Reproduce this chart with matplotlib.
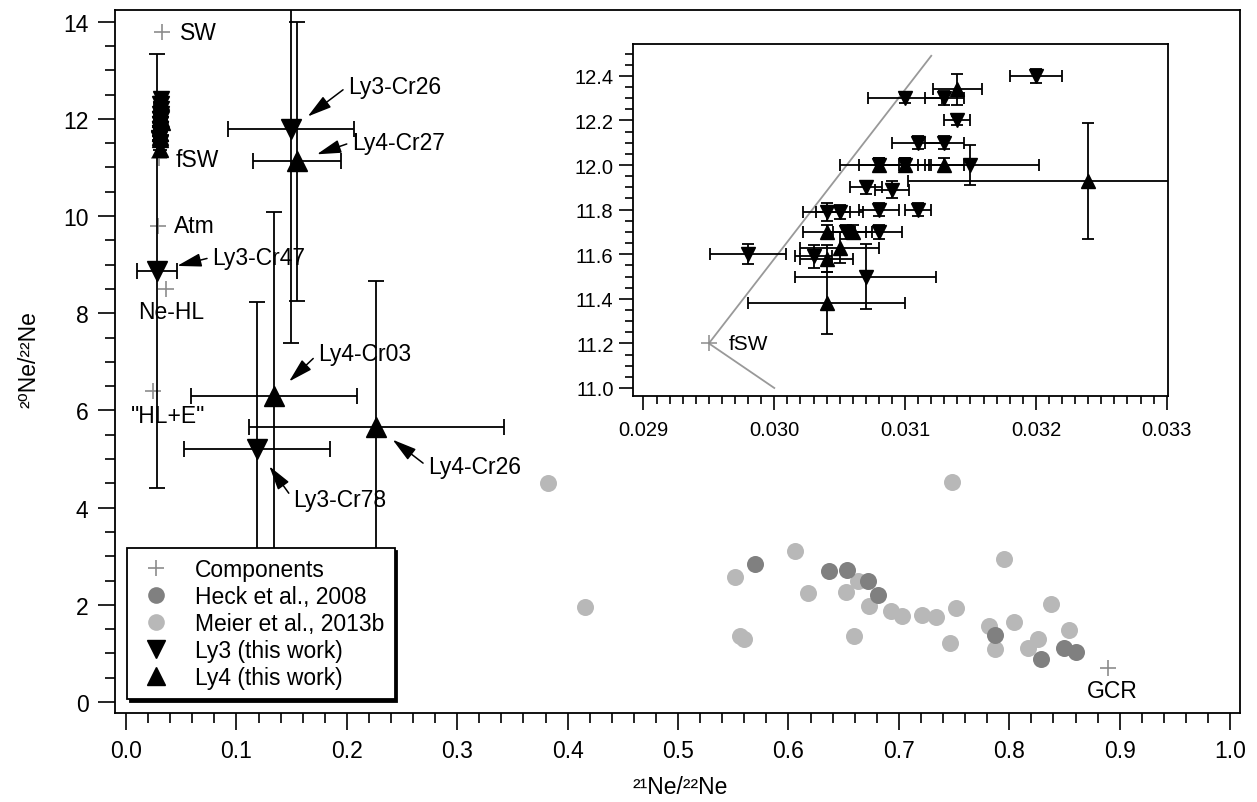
import matplotlib.pyplot as plt
from matplotlib.lines import Line2D
from matplotlib.ticker import MultipleLocator, FormatStrFormatter

plt.rcParams['font.family'] = ['Liberation Sans', 'DejaVu Sans']

# endmember components (21Ne/22Ne, 20Ne/22Ne)
comp_names = ['SW', 'fSW', 'Atm', 'Ne-HL', '"HL+E"', 'GCR']
comp_x = [0.0329, 0.0295, 0.029, 0.036, 0.024, 0.889]
comp_y = [13.78, 11.2, 9.8, 8.5, 6.4, 0.70]

# literature data
heck_x = [0.570, 0.637, 0.653, 0.672, 0.681, 0.787, 0.829, 0.850, 0.860]
heck_y = [2.83, 2.70, 2.71, 2.50, 2.20, 1.38, 0.88, 1.12, 1.02]
meier_x = [0.382, 0.416, 0.606, 0.552, 0.663, 0.618, 0.652, 0.673, 0.693,
           0.556, 0.560, 0.659, 0.795, 0.748, 0.703, 0.721, 0.734, 0.752,
           0.746, 0.782, 0.787, 0.804, 0.838, 0.854, 0.817, 0.826]
meier_y = [4.51, 1.95, 3.10, 2.57, 2.50, 2.24, 2.26, 1.98, 1.88,
           1.36, 1.30, 1.36, 2.94, 4.52, 1.78, 1.79, 1.74, 1.93,
           1.21, 1.57, 1.09, 1.64, 2.02, 1.48, 1.12, 1.30]

# labelled craters (this work)
ly3_names = ['Ly3-Cr26', 'Ly3-Cr47', 'Ly3-Cr78']
ly3_x = [0.1495, 0.028, 0.1187]
ly3_y = [11.79, 8.87, 5.20]
ly3_xerr = [0.057, 0.018, 0.066]
ly3_yerr = [4.40, 4.47, 3.03]
ly4_names = ['Ly4-Cr27', 'Ly4-Cr03', 'Ly4-Cr26']
ly4_x = [0.155, 0.134, 0.2265]
ly4_y = [11.13, 6.30, 5.66]
ly4_xerr = [0.040, 0.075, 0.1155]
ly4_yerr = [2.87, 3.78, 3.00]

# solar-wind-like craters (shown in the inset)
ly3s_x = [0.03100, 0.03130, 0.03200, 0.03140, 0.03110, 0.03130, 0.03080,
          0.03100, 0.03150, 0.03070, 0.03090, 0.03040, 0.03050, 0.03080,
          0.03110, 0.03080, 0.03055, 0.02980, 0.03030, 0.03070]
ly3s_y = [12.30, 12.30, 12.40, 12.20, 12.10, 12.10, 12.00,
          12.00, 12.00, 11.90, 11.89, 11.79, 11.79, 11.80,
          11.80, 11.70, 11.70, 11.60, 11.59, 11.50]
ly3s_xerr = [0.00028, 0.00015, 0.00020, 0.00010, 0.00020, 0.00015, 0.00030,
             0.00020, 0.00052, 0.00012, 0.00013, 0.00018, 0.00018, 0.00015,
             0.00010, 0.00018, 0.00015, 0.00029, 0.00014, 0.00054]
ly3s_yerr = [0.02, 0.03, 0.03, 0.02, 0.03, 0.03, 0.03,
             0.03, 0.09, 0.03, 0.04, 0.04, 0.03, 0.03,
             0.03, 0.03, 0.03, 0.045, 0.05, 0.145]
ly4s_x = [0.03140, 0.03100, 0.03080, 0.03130, 0.03240, 0.03040, 0.03060,
          0.03050, 0.03040, 0.03040]
ly4s_y = [12.34, 12.00, 12.00, 12.00, 11.93, 11.70, 11.70,
          11.63, 11.58, 11.38]
ly4s_xerr = [0.00019, 0.00018, 0.00015, 0.00015, 0.00138, 0.00018, 0.00015,
             0.00030, 0.00020, 0.00060]
ly4s_yerr = [0.07, 0.03, 0.03, 0.03, 0.26, 0.03, 0.03,
             0.07, 0.06, 0.14]

# fractionation line through fSW
line_x = [0.0300, 0.0295, 0.0312]
line_y = [11.0, 11.2, 12.49]

# label offsets (points)
comp_offsets = [(13, 0), (12, -1), (11.5, 0), (4, -16), (11.5, -18), (3.6, -16.5)]
comp_ha = ['left', 'left', 'left', 'center', 'center', 'center']
ly3_offsets = [(41, 31), (40, 10), (26, -36)]
ly4_offsets = [(39.6, 13.7), (31.7, 30.2), (37.4, -28.8)]

dark = '#808080'
light = '#b8b8b8'
compc = '#8c8c8c'
fs = 16.5

fig = plt.figure(figsize=(12.57, 8.03), dpi=100)
ax = fig.add_axes([115 / 1257, 1 - 714 / 803, 1125 / 1257, 703 / 803])

ax.scatter(meier_x, meier_y, s=150, c=light, linewidths=0, zorder=2)
ax.scatter(heck_x, heck_y, s=150, c=dark, linewidths=0, zorder=2)
ax.plot(comp_x, comp_y, '+', color=compc, ms=12, mew=1.2, ls='none', zorder=3)

eb = dict(color='k', elinewidth=1.3, capthick=1.3, ls='none', zorder=3)
ax.errorbar(ly3s_x, ly3s_y, xerr=ly3s_xerr, yerr=ly3s_yerr, fmt='v', ms=11,
            capsize=5, **eb)
ax.errorbar(ly4s_x, ly4s_y, xerr=ly4s_xerr, yerr=ly4s_yerr, fmt='^', ms=11,
            capsize=5, **eb)
ax.errorbar(ly3_x, ly3_y, xerr=ly3_xerr, yerr=ly3_yerr, fmt='v', ms=14,
            capsize=5.5, **eb)
ax.errorbar(ly4_x, ly4_y, xerr=ly4_xerr, yerr=ly4_yerr, fmt='^', ms=14,
            capsize=5.5, **eb)

for name, x, y, off, ha in zip(comp_names, comp_x, comp_y, comp_offsets, comp_ha):
    ax.annotate(name, (x, y), xytext=off, textcoords='offset points',
                ha=ha, va='center', fontsize=fs)

arrow = dict(arrowstyle='-|>,head_length=0.9,head_width=0.25', color='k',
             lw=1.1, shrinkB=15, relpos=(0, 0.5))
for names, xs, ys, offs in [(ly3_names, ly3_x, ly3_y, ly3_offsets),
                            (ly4_names, ly4_x, ly4_y, ly4_offsets)]:
    for name, x, y, off in zip(names, xs, ys, offs):
        ax.annotate(name, (x, y), xytext=off, textcoords='offset points',
                    ha='left', va='center', fontsize=fs, arrowprops=arrow)

ax.set_xlim(-0.01, 1.009)
ax.set_ylim(-0.226, 14.24)
ax.xaxis.set_major_locator(MultipleLocator(0.1))
ax.xaxis.set_minor_locator(MultipleLocator(0.02))
ax.xaxis.set_major_formatter(FormatStrFormatter('%.1f'))
ax.yaxis.set_major_locator(MultipleLocator(2))
ax.yaxis.set_minor_locator(MultipleLocator(0.5))
ax.tick_params(which='major', length=12, width=1.2, labelsize=fs)
ax.tick_params(which='minor', length=7, width=1.2)
ax.tick_params(axis='x', pad=7)
ax.tick_params(axis='y', pad=7)
for s in ax.spines.values():
    s.set_linewidth(1.3)

ax.set_xlabel('²¹Ne/²²Ne', fontsize=fs)
ax.set_ylabel('²⁰Ne/²²Ne', fontsize=fs)
ax.xaxis.set_label_coords(0.502, -0.088)
ax.yaxis.set_label_coords(-0.066, 0.504)

handles = [
    Line2D([], [], marker='+', color=compc, ls='none', ms=12, mew=1.2),
    Line2D([], [], marker='o', color=dark, ls='none', ms=12, mew=0),
    Line2D([], [], marker='o', color=light, ls='none', ms=12, mew=0),
    Line2D([], [], marker='v', color='k', ls='none', ms=13),
    Line2D([], [], marker='^', color='k', ls='none', ms=13),
]
labels = ['Components', 'Heck et al., 2008', 'Meier et al., 2013b',
          'Ly3 (this work)', 'Ly4 (this work)']
leg = ax.legend(handles, labels, loc='lower left', bbox_to_anchor=(0.011, 0.02),
                borderaxespad=0, fontsize=fs, labelspacing=0.17,
                handletextpad=0.9, handlelength=1.6, borderpad=0.45,
                fancybox=False, framealpha=1, edgecolor='k',
                shadow={'color': 'k', 'alpha': 1})
leg.get_frame().set_linewidth(1.3)

# inset
ins = fig.add_axes([633 / 1257, 1 - 397 / 803, 535 / 1257, 352 / 803])
ins.plot(line_x, line_y, color='#999999', lw=1.3, zorder=1)
ins.plot(comp_x[1], comp_y[1], '+', color=compc, ms=11, mew=1.1, zorder=2)
ins.annotate(comp_names[1], (comp_x[1], comp_y[1]), xytext=(14, 0),
             textcoords='offset points', ha='left', va='center', fontsize=15)
ins.errorbar(ly3s_x, ly3s_y, xerr=ly3s_xerr, yerr=ly3s_yerr, fmt='v', ms=10,
             capsize=4.5, **eb)
ins.errorbar(ly4s_x, ly4s_y, xerr=ly4s_xerr, yerr=ly4s_yerr, fmt='^', ms=10,
             capsize=4.5, **eb)
ins.set_xlim(0.02892, 0.03301)
ins.set_ylim(10.964, 12.543)
ins.xaxis.set_major_locator(MultipleLocator(0.001))
ins.xaxis.set_minor_locator(MultipleLocator(0.0001))
ins.xaxis.set_major_formatter(FormatStrFormatter('%.3f'))
ins.yaxis.set_major_locator(MultipleLocator(0.2))
ins.yaxis.set_minor_locator(MultipleLocator(0.05))
ins.yaxis.set_major_formatter(FormatStrFormatter('%.1f'))
ins.tick_params(which='major', length=10, width=1.2, labelsize=14.5)
ins.tick_params(which='minor', length=6, width=1.2)
ins.tick_params(axis='x', pad=7)
ins.tick_params(axis='y', pad=4)
for s in ins.spines.values():
    s.set_linewidth(1.3)

fig.savefig('out.png', dpi=100)
